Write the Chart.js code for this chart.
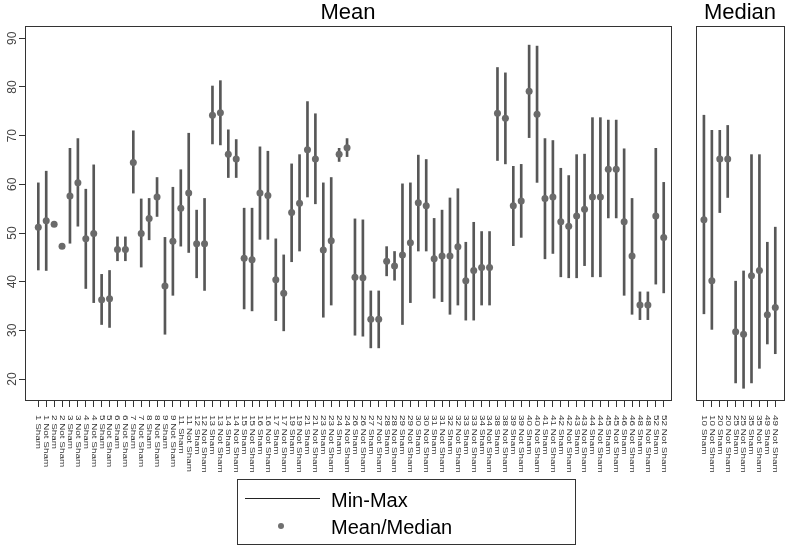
<!DOCTYPE html>
<html>
<head>
<meta charset="utf-8">
<script src="https://cdn.jsdelivr.net/npm/chart.js@4.4.0/dist/chart.umd.min.js"></script>
<style>
html,body{margin:0;padding:0;background:#fff;}
#wrap{position:relative;width:789px;height:545px;overflow:hidden;font-family:"Liberation Sans",Arial,sans-serif;background:#fff;}
canvas{position:absolute;left:0;top:0;}
.title{position:absolute;top:1px;font-size:22px;line-height:22px;color:#000;text-align:center;white-space:nowrap;}
#legendBox{position:absolute;left:237px;top:479px;width:339px;height:66px;border:1px solid #333;box-sizing:border-box;}
#legLine{position:absolute;left:245px;top:498px;width:75px;height:1px;background:#222;}
#legDot{position:absolute;left:278px;top:523px;width:6px;height:6px;border-radius:50%;background:#707070;}
.legText{position:absolute;left:331px;font-size:20px;line-height:20px;color:#000;white-space:nowrap;}
</style>
</head>
<body>
<div id="wrap">
  <canvas id="meanChart" width="789" height="545"></canvas>
  <canvas id="medianChart" width="789" height="545"></canvas>
  <div class="title" style="left:248px;width:200px;">Mean</div>
  <div class="title" style="left:640px;width:200px;">Median</div>
  <div id="legendBox"></div>
  <div id="legLine"></div>
  <div id="legDot"></div>
  <div class="legText" style="top:490px;">Min-Max</div>
  <div class="legText" style="top:517px;">Mean/Median</div>
</div>
<script>
// ---------- DATA ----------
const meanCategories = ["1 Sham","1 Not Sham","2 Sham","2 Not Sham","3 Sham","3 Not Sham","4 Sham","4 Not Sham","5 Sham","5 Not Sham","6 Sham","6 Not Sham","7 Sham","7 Not Sham","8 Sham","8 Not Sham","9 Sham","9 Not Sham","11 Sham","11 Not Sham","12 Sham","12 Not Sham","13 Sham","13 Not Sham","14 Sham","14 Not Sham","15 Sham","15 Not Sham","16 Sham","16 Not Sham","17 Sham","17 Not Sham","19 Sham","19 Not Sham","21 Sham","21 Not Sham","23 Sham","23 Not Sham","24 Sham","24 Not Sham","26 Sham","26 Not Sham","27 Sham","27 Not Sham","28 Sham","28 Not Sham","29 Sham","29 Not Sham","30 Sham","30 Not Sham","31 Sham","31 Not Sham","32 Sham","32 Not Sham","33 Sham","33 Not Sham","34 Sham","34 Not Sham","38 Sham","38 Not Sham","39 Sham","39 Not Sham","40 Sham","40 Not Sham","41 Sham","41 Not Sham","42 Sham","42 Not Sham","43 Sham","43 Not Sham","44 Sham","44 Not Sham","45 Sham","45 Not Sham","46 Sham","46 Not Sham","48 Sham","48 Not Sham","52 Sham","52 Not Sham"];
const meanValues = [51.2,52.5,51.8,47.3,57.6,60.3,48.8,49.9,36.3,36.5,46.6,46.6,64.5,49.9,53.0,57.4,39.1,48.3,55.1,58.2,47.8,47.8,74.2,74.7,66.2,65.2,44.8,44.5,58.2,57.7,40.4,37.6,54.2,56.1,67.1,65.2,46.5,48.4,66.2,67.5,40.9,40.8,32.3,32.3,44.2,43.2,45.5,48.0,56.2,55.6,44.7,45.3,45.3,47.2,40.2,42.3,42.9,42.9,74.6,73.6,55.6,56.6,79.1,74.4,57.1,57.4,52.3,51.4,53.5,54.9,57.4,57.4,63.1,63.1,52.3,45.3,35.2,35.2,53.5,49.1];
const meanMins = [42.4,42.3,51.5,47.1,47.9,51.4,38.6,35.7,31.2,30.6,44.3,44.3,58.2,43.0,48.6,53.4,29.2,37.2,47.3,46.0,40.8,38.2,68.3,68.1,61.4,61.4,34.4,34.0,48.7,48.7,32.0,29.9,44.1,46.3,57.4,56.0,32.7,35.2,64.7,65.7,29.0,28.8,26.4,26.4,41.2,40.3,31.2,35.7,46.3,46.3,36.6,35.9,33.3,35.2,32.1,32.1,35.2,35.2,64.9,64.2,47.4,49.1,69.6,60.4,44.7,45.8,41.0,40.8,40.8,43.3,41.0,41.0,53.1,53.1,37.2,33.3,32.2,32.2,39.5,37.7];
const meanMaxs = [60.3,62.7,52.1,47.5,67.4,69.4,59.0,64.0,41.5,42.3,49.2,49.2,71.0,57.0,57.1,61.4,49.1,59.4,63.0,70.5,54.7,57.1,80.2,81.3,71.2,69.2,55.1,55.1,67.7,66.8,48.8,45.5,64.2,66.1,77.0,74.5,60.3,61.4,67.4,69.4,52.9,52.7,38.1,38.1,47.2,46.2,60.1,60.3,66.0,65.1,53.0,54.7,57.2,59.1,48.1,52.2,50.3,50.3,84.0,82.9,63.7,64.1,88.6,88.4,69.4,69.0,63.3,61.8,66.1,66.2,73.7,73.7,73.2,73.2,67.3,57.1,37.9,37.9,67.4,60.4];

const medianCategories = ["10 Sham","10 Not Sham","20 Sham","20 Not Sham","25 Sham","25 Not Sham","35 Sham","35 Not Sham","49 Sham","49 Not Sham"];
const medianValues = [52.7,40.2,65.2,65.2,29.7,29.2,41.2,42.3,33.2,34.7];
const medianMins = [33.4,30.2,54.2,57.3,19.2,18.1,19.2,22.2,27.2,25.2];
const medianMaxs = [74.2,71.1,71.1,72.1,40.1,42.2,66.1,66.1,48.1,51.2];

const yTickValues = [20,30,40,50,60,70,80,90];

// ---------- STYLE ----------
const LINE = '#575757';
const DOT = '#6a6a6a';
const AXIS = '#333333';
const FONT = '"Liberation Sans", Arial, sans-serif';

const boxPlugin = {
  id: 'box',
  afterDraw(chart) {
    const a = chart.chartArea, ctx = chart.ctx;
    ctx.save();
    ctx.strokeStyle = AXIS;
    ctx.lineWidth = 1;
    ctx.strokeRect(Math.round(a.left) + 0.5, Math.round(a.top) + 0.5,
                   Math.round(a.right - a.left), Math.round(a.bottom - a.top));
    ctx.restore();
  }
};

function xLabelPlugin(labels) {
  return {
    id: 'xlabels',
    afterDraw(chart) {
      const xs = chart.scales.x, ctx = chart.ctx;
      ctx.save();
      ctx.font = '7.6px ' + FONT;
      ctx.fillStyle = '#333';
      ctx.textAlign = 'left';
      ctx.textBaseline = 'middle';
      labels.forEach((l, i) => {
        const px = xs.getPixelForValue(i + 1);
        ctx.save();
        ctx.translate(px, xs.top + 15);
        ctx.rotate(Math.PI / 2);
        ctx.scale(1.3, 1);
        ctx.fillText(l, 0, 0);
        ctx.restore();
      });
      ctx.restore();
    }
  };
}

function makeChart(id, cats, vals, mins, maxs, o) {
  const bars = cats.map((c, i) => ({ x: i + 1, y: [mins[i], maxs[i]] }));
  const pts = cats.map((c, i) => ({ x: i + 1, y: vals[i] }));
  return new Chart(document.getElementById(id), {
    type: 'scatter',
    data: {
      datasets: [
        { type: 'bar', data: bars, backgroundColor: LINE, borderWidth: 0,
          barThickness: 2, grouped: false, order: 2 },
        { type: 'scatter', data: pts, backgroundColor: DOT, borderWidth: 0,
          pointRadius: 3.5, pointHoverRadius: 3.5, showLine: false, order: 1 }
      ]
    },
    options: {
      responsive: false,
      animation: false,
      devicePixelRatio: 1,
      events: [],
      layout: { padding: { left: o.padLeft, right: o.padRight, top: 26, bottom: 0 } },
      plugins: { legend: { display: false }, tooltip: { enabled: false }, title: { display: false } },
      scales: {
        x: {
          type: 'linear', min: o.xMin, max: o.xMax, offset: false,
          afterBuildTicks: s => { s.ticks = cats.map((c, i) => ({ value: i + 1 })); },
          afterFit: s => { s.height = 145; },
          ticks: { display: false, autoSkip: false },
          grid: { display: true, offset: false, drawOnChartArea: false, drawTicks: true,
                  tickLength: 7, color: AXIS, lineWidth: 1 },
          border: { display: false }
        },
        y: {
          type: 'linear', min: 15.69, max: 92.53,
          display: o.showY,
          afterBuildTicks: s => { s.ticks = yTickValues.map(v => ({ value: v })); },
          afterFit: s => { s.width = o.showY ? 25 : 0; },
          ticks: { display: true, autoSkip: false, minRotation: 90, maxRotation: 90,
                   crossAlign: 'center', padding: 0, color: '#444',
                   font: { size: 12, family: FONT } },
          grid: { display: true, drawOnChartArea: false, drawTicks: true, tickLength: 6,
                  color: AXIS, lineWidth: 1 },
          border: { display: false }
        }
      }
    },
    plugins: [boxPlugin, xLabelPlugin(cats)]
  });
}

makeChart('meanChart', meanCategories, meanValues, meanMins, meanMaxs,
  { padLeft: 0, padRight: 118, xMin: -0.68, xMax: 80.92, showY: true });
makeChart('medianChart', medianCategories, medianValues, medianMins, medianMaxs,
  { padLeft: 696, padRight: 5, xMin: 0, xMax: 11.1, showY: false });
</script>
</body>
</html>
